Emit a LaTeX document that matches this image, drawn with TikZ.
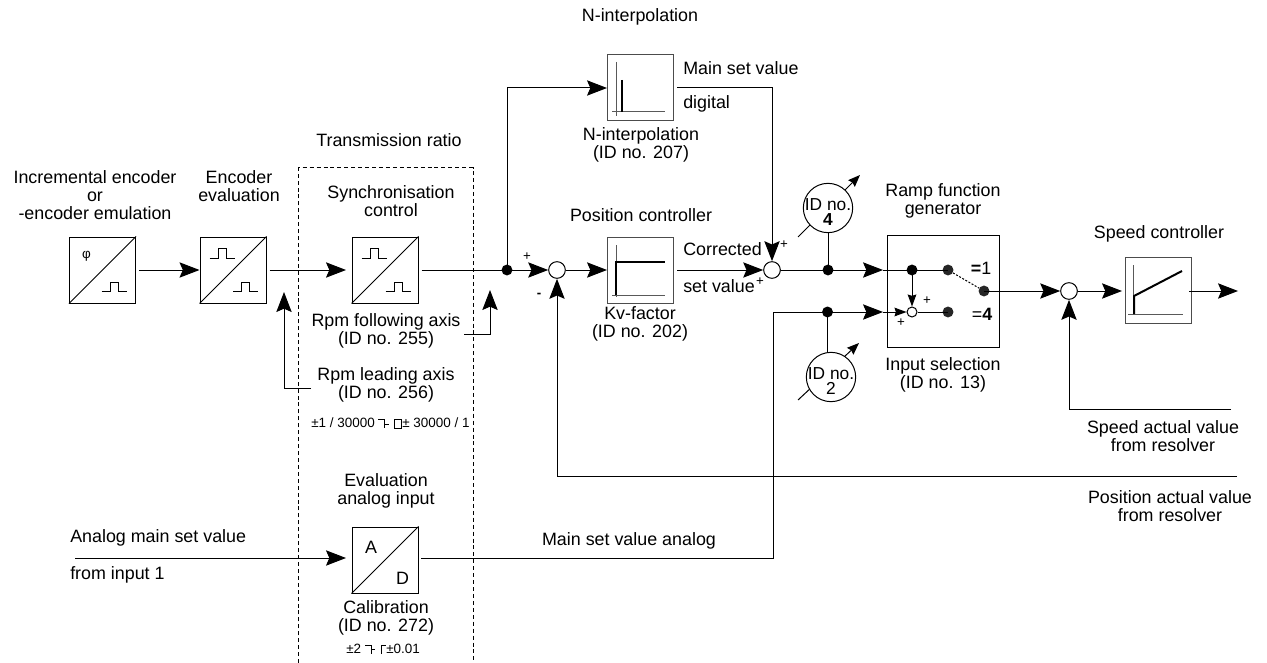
\documentclass[tikz,border=0pt]{standalone}
\usepackage{fontspec}
\setmainfont{Liberation Sans}
\usetikzlibrary{arrows.meta,calc}
\tikzset{
  base/.style={line width=0.75pt},
  block/.style={draw,base,rectangle,inner sep=0pt,minimum size=49.5pt},
  softblock/.style={block,draw=black!70},
  lab/.style={font=\fontsize{13.4}{13.5}\selectfont,align=center,inner sep=0pt},
  idlab/.style={font=\fontsize{13}{11.25}\selectfont,align=center,inner sep=0pt},
  tiny/.style={font=\fontsize{10.1}{11}\selectfont,inner sep=0pt},
  plus/.style={font=\fontsize{10}{10}\selectfont,inner sep=0pt},
  junction/.style={circle,fill=black,inner sep=0pt,minimum size=8.2pt},
  sumpt/.style={circle,draw,base,fill=white,inner sep=0pt,minimum size=12.5pt},
  smallsum/.style={circle,draw,base,fill=white,inner sep=0pt,minimum size=7.5pt},
  param/.style={circle,draw,base,fill=white,inner sep=0pt,minimum size=37pt},
  wire/.style={base},
  arr/.style={base,-{Stealth[length=15pt,width=11.5pt,inset=2.5pt]}},
  smallarr/.style={base,-{Stealth[length=9pt,width=6.5pt,inset=1pt]}},
  adj/.style={base,-{Stealth[length=9pt,width=7pt,inset=1pt]}},
  gap/.style={shorten <=2.25pt},
  thickline/.style={line width=1.5pt},
  pulse/.pic={\draw[base] (-12.5,0)--(-4,0)--(-4,-9.5)--(4,-9.5)--(4,0)--(12.5,0);}
}
\begin{document}
\begin{tikzpicture}[x=0.75pt,y=-0.75pt]
\useasboundingbox (0,0) rectangle (1267,663);
% dashed frame
\draw[base,dashed,dash pattern=on 3pt off 2.2pt] (298.5,663) -- (298.5,168) -- (473,168) -- (473,663);
% blocks
\node[block] (box1) at (102.5,270) {};
\node[block] (box2) at (233,270) {};
\node[block] (box3) at (385,270) {};
\node[softblock] (boxN) at (640.5,88) {};
\node[softblock] (boxP) at (640.5,270) {};
\node[block] (boxAD) at (385,560) {};
\node[softblock] (boxS) at (1158,290) {};
\node[draw,base,rectangle,inner sep=0pt,minimum width=84pt,minimum height=83.5pt] (ramp) at (943,291.5) {};
\draw[base] (box1.south west) -- (box1.north east);
\draw[base] (box2.south west) -- (box2.north east);
\draw[base] (box3.south west) -- (box3.north east);
\draw[base] (boxAD.south west) -- (boxAD.north east);
% block icons
\pic at (114,291.5) {pulse};
\pic at (222,258) {pulse};
\pic at (245.5,291.5) {pulse};
\pic at (374,258) {pulse};
\pic at (398,291.5) {pulse};
\node[tiny] (phi) at (86.5,256) {φ};
\node[lab] (A) at (371,547) {A};
\node[lab] (D) at (402.5,578) {D};
\draw[base,gray!70!black] (616,62) -- (616,116) (612,112) -- (665,112);
\draw[thickline] (622,80) -- (622,112);
\draw[base,gray!70!black] (616,245) -- (616,297) (612,295) -- (665,295);
\draw[thickline] (616,295) -- (616,262) -- (665,262);
\draw[base,gray!70!black] (1133,265) -- (1133,315) (1128,314) -- (1183,314);
\draw[thickline] (1134,314) -- (1134,296) -- (1182,271);
% summing points, junctions
\node[sumpt] (sum1) at (557,270) {};
\node[sumpt] (sum2) at (772,270) {};
\node[sumpt] (sum3) at (1069,291) {};
\node[junction] (jN) at (507,270) {};
\node[junction] (j4) at (828,270) {};
\node[junction] (j2) at (827.5,312) {};
\node[junction] (r1) at (912,270) {};
\node[junction,fill=black!85] (r2) at (948,270) {};
\node[junction,fill=black!85] (r3) at (984,291) {};
\node[junction,fill=black!85] (r4) at (948,312) {};
\node[smallsum] (rs) at (912,312) {};
% free ends
\coordinate (in1) at (883,270);
\coordinate (in4) at (883,312);
\coordinate (corner2) at (773,312);
\coordinate (adin) at (346,558);
\coordinate (adout) at (421,558);
\coordinate (aStart) at (75,558);
\coordinate (folS) at (464,334);
\coordinate (folT) at (490,290);
\coordinate (leadS) at (311,388);
\coordinate (leadT) at (284,292);
\coordinate (spdS) at (1231,409);
\coordinate (posS) at (1237,476);
\coordinate (sIn) at (1122,291);
\coordinate (sOut) at (1189,291);
\coordinate (out) at (1238,291);
\coordinate (b3in) at (346,270);
\coordinate (a4s) at (798,237);
\coordinate (a4e) at (860,175);
\coordinate (a2s) at (798,400);
\coordinate (a2e) at (859,343);
% adjusters (below the parameter circles)
\draw[adj] (a4s) -- (a4e);
\draw[adj] (a2s) -- (a2e);
\node[param] (p4) at (828,208) {};
\node[param] (p2) at (831,377) {};
\node[idlab] (p4t) at (828,212) {ID no.\\\textbf{4}};
\node[idlab] (p2t) at (831,381) {ID no.\\2};
% connectors
\draw[arr,gap] (box1.east) -- (box2.west);
\draw[arr,gap] (box2.east) -- (b3in);
\draw[arr,gap] (box3.east) -- (sum1.west);
\draw[arr] (sum1.east) -- (boxP.west);
\draw[arr] (jN.center) |- (boxN.west);
\draw[arr,gap] (boxN.east) -| (sum2.north);
\draw[arr,gap] (boxP.east) -- (sum2.west);
\draw[arr] (sum2.east) -- (in1);
\draw[wire] (in1) -- (r2.center);
\draw[wire] (j4.center) -- (p4.south);
\draw[wire] (j2.center) -- (j2 |- p2.north);
\draw[arr] (folS) -| (folT);
\draw[arr] (leadS) -| (leadT);
\draw[arr] (aStart) -- (adin);
\draw[arr] (adout) -| (corner2) -- (in4);
\draw[smallarr] (in4) -- (rs.west);
\draw[wire] (rs.east) -- (r4.center);
\draw[smallarr] (r1.center) -- (rs.north);
\draw[base,dashed,dash pattern=on 1.5pt off 1.2pt] (r2) -- (r3);
\draw[arr] (r3.center) -- (sum3.west);
\draw[arr] (sum3.east) -- (sIn);
\draw[arr] (sOut) -- (out);
\draw[arr] (spdS) -| (sum3.south);
\draw[arr] (posS) -| (sum1.south);
% labels
\node[lab] (tN) at (640,17) {N-interpolation};
\node[lab] (tT) at (389,140) {Transmission ratio};
\node[lab] (tI) at (95,195) {Incremental encoder\\or\\-encoder emulation};
\node[lab] (tE) at (239,186) {Encoder\\evaluation};
\node[lab] (tS) at (391,201) {Synchronisation\\control};
\node[lab] (tF) at (386,331) {Rpm following axis\\(ID no. 255)};
\node[lab] (tL) at (386,385) {Rpm leading axis\\(ID no. 256)};
\node[lab,anchor=west] (tM) at (683,68) {Main set value};
\node[lab,anchor=west] (tD) at (683,104) {digital};
\node[lab] (tNI) at (641,145) {N-interpolation\\(ID no. 207)};
\node[lab] (tP) at (641,215) {Position controller};
\node[lab,anchor=west] (tC) at (683,249) {Corrected};
\node[lab,anchor=west] (tV) at (683,286) {set value};
\node[lab] (tK) at (640,324) {Kv-factor\\(ID no. 202)};
\node[lab] (tR) at (943,201) {Ramp function\\generator};
\node[lab] (tSp) at (1159,234) {Speed controller};
\node[lab] (tIn) at (943,375) {Input selection\\(ID no. 13)};
\node[lab] (t1) at (981,268) {\textbf{=}1};
\node[lab] (t4) at (982,314) {=\textbf{4}};
\node[lab] (tSa) at (1163,436) {Speed actual value\\from resolver};
\node[lab] (tPa) at (1170,506) {Position actual value\\from resolver};
\node[lab] (tEv) at (386,491) {Evaluation\\analog input};
\node[lab] (tCa) at (386,618) {Calibration\\(ID no. 272)};
\node[lab,anchor=west] (tAn) at (70,538) {Analog main set value};
\node[lab,anchor=west] (tFr) at (70,575) {from input 1};
\node[lab] (tMa) at (629,541) {Main set value analog};
\node[plus] (pl1) at (527,257) {+};
\node[plus] (pl2) at (539,295) {\textbf{-}};
\node[plus] (pl3) at (784,245) {+};
\node[plus] (pl4) at (760,282) {+};
\node[plus] (pl5) at (927,301) {+};
\node[plus] (pl6) at (901,323) {+};
% range notes
\node[tiny,anchor=west] (r1a) at (311,423) {±1 / 30000};
\draw[base] (378,419) -- (384,419) -- (384,428) (384,424) -- (389,424);
\draw[base] (394,419) rectangle (401,428);
\node[tiny,anchor=west] (r1b) at (402,423) {± 30000 / 1};
\node[tiny,anchor=west] (r2a) at (346,649) {±2};
\draw[base] (365,645) -- (371,645) -- (371,654) (371,649) -- (375,649);
\draw[base] (381,654) -- (381,645) -- (386,645);
\node[tiny,anchor=west] (r2b) at (386,649) {±0.01};
\end{tikzpicture}
\end{document}
